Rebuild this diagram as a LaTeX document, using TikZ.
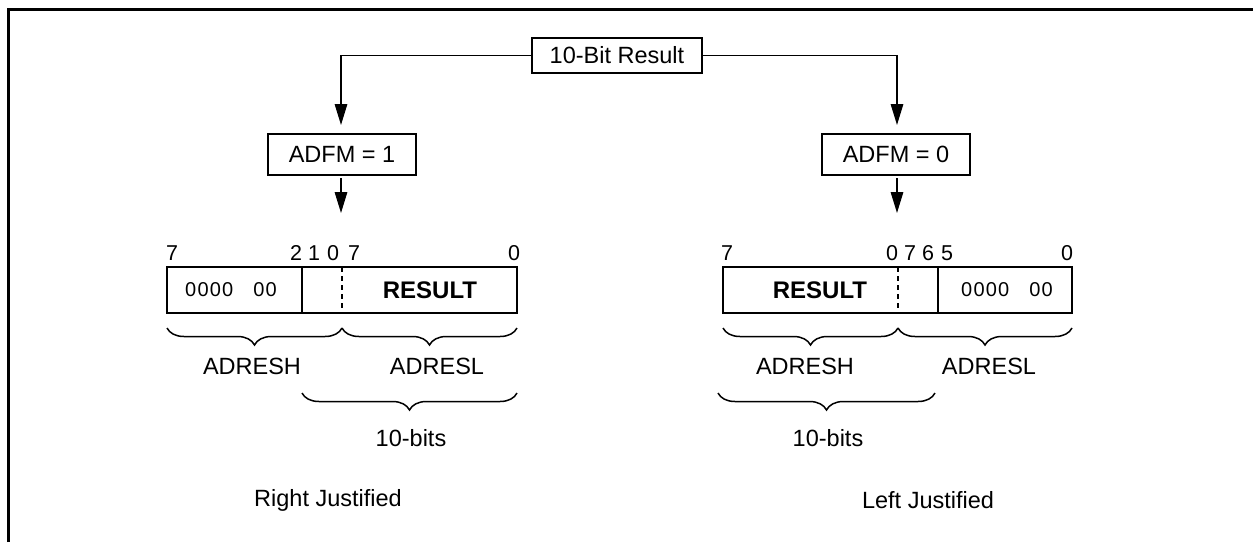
\documentclass[tikz,border=0pt]{standalone}
\usepackage{fontspec}
\setmainfont{Liberation Sans}
\usetikzlibrary{arrows.meta,decorations.pathreplacing}
\newcommand{\zerosrow}{0\hspace{1.2pt}0\hspace{1.2pt}0\hspace{1.2pt}0\hspace{20pt}0\hspace{1.2pt}0}
\begin{document}
\begin{tikzpicture}[x=1pt,y=-1pt,
 box/.style={draw,line width=1.5pt,inner sep=0pt,font=\fontsize{23.5}{28}\selectfont},
 lbl/.style={inner sep=0pt,font=\fontsize{23.5}{28}\selectfont},
 bitlbl/.style={inner sep=0pt,font=\fontsize{21.5}{26}\selectfont},
 zeros/.style={inner sep=0pt,font=\fontsize{20}{24}\selectfont},
 boldlbl/.style={inner sep=0pt,font=\fontsize{24}{28}\selectfont\bfseries},
 arr/.style={line width=1.5pt,-{Triangle[length=21pt,width=12.5pt]}},
 brc/.style={line width=1.5pt,decorate,decoration={brace,mirror,amplitude=17pt}},
 regbox/.style={draw,line width=1.5pt,inner sep=0pt},
 dsh/.style={line width=1.2pt,dash pattern=on 5pt off 4pt}]
\useasboundingbox (0,0) rectangle (1253,542);
% outer frame
\draw[line width=3pt] (8.5,542) -- (8.5,9.5) -- (1253,9.5);

% top box and ADFM boxes
\node[box,minimum width=170,minimum height=35] (res) at (617,55.5) {10-Bit Result};
\node[box,minimum width=148,minimum height=41] (adfmA) at (342,154.5) {ADFM = 1};
\node[box,minimum width=148,minimum height=41] (adfmB) at (896,154.5) {ADFM = 0};
\coordinate (tA) at (341,125);
\coordinate (tB) at (897,125);
\draw[arr] (res.west) -| (tA);
\draw[arr] (res.east) -| (tB);
\coordinate (sA) at (341,178);
\coordinate (eA) at (341,213);
\coordinate (sB) at (897,178);
\coordinate (eB) at (897,213);
\draw[arr] (sA) -- (eA);
\draw[arr] (sB) -- (eB);

% left register (right justified)
\node[regbox,minimum width=350,minimum height=46] (regL) at (342,290) {};
\draw[line width=1.5pt] (302,267) -- (302,313);
\draw[dsh] (342,267) -- (342,313);
\node[zeros] (zL) at (231,290) {\zerosrow};
\node[boldlbl] (rL) at (430,290) {RESULT};
\node[bitlbl] (bL1) at (172,253) {7};
\node[bitlbl] (bL2) at (296,253) {2};
\node[bitlbl] (bL3) at (314,253) {1};
\node[bitlbl] (bL4) at (333,253) {0};
\node[bitlbl] (bL5) at (354,253) {7};
\node[bitlbl] (bL6) at (514,253) {0};
\draw[brc] (167,328) -- (342,328);
\draw[brc] (342,328) -- (517,328);
\node[lbl] (hL) at (252,366) {ADRESH};
\node[lbl] (lL) at (437,366) {ADRESL};
\draw[brc] (302,393) -- (517,393);
\node[lbl] (tenL) at (411,438) {10-bits};
\node[lbl] (rjust) at (328,500) {Right Justified};

% right register (left justified)
\node[regbox,minimum width=349,minimum height=46] (regR) at (897.5,290) {};
\draw[dsh] (898,267) -- (898,313);
\draw[line width=1.5pt] (938,267) -- (938,313);
\node[boldlbl] (rR) at (820,290) {RESULT};
\node[zeros] (zR) at (1007,290) {\zerosrow};
\node[bitlbl] (bR1) at (727,253) {7};
\node[bitlbl] (bR2) at (892,253) {0};
\node[bitlbl] (bR3) at (910,253) {7};
\node[bitlbl] (bR4) at (928,253) {6};
\node[bitlbl] (bR5) at (947,253) {5};
\node[bitlbl] (bR6) at (1067,253) {0};
\draw[brc] (723,328) -- (898,328);
\draw[brc] (898,328) -- (1072,328);
\node[lbl] (hR) at (805,366) {ADRESH};
\node[lbl] (lR) at (989,366) {ADRESL};
\draw[brc] (718,393) -- (935,393);
\node[lbl] (tenR) at (828,438) {10-bits};
\node[lbl] (ljust) at (928,500) {Left Justified};
\end{tikzpicture}
\end{document}
